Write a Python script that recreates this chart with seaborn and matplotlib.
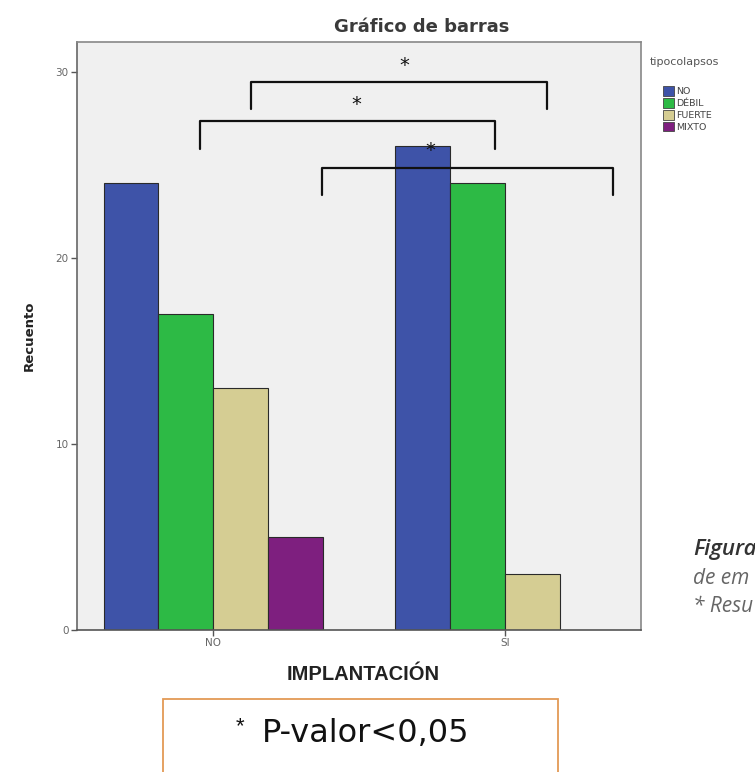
import matplotlib
matplotlib.use("Agg")
import matplotlib.pyplot as plt
import seaborn as sns
import pandas as pd
from matplotlib.patches import Rectangle, Patch

# ---- data ----
implantacion = ["NO", "SI"]
tipocolapsos = ["NO", "DÉBIL", "FUERTE", "MIXTO"]
recuento_no = [24, 17, 13, 5]
recuento_si = [26, 24, 3, 0]
colores = ["#3E53A8", "#2DBA45", "#D5CD93", "#7E1F7F"]

# significance brackets: (x_start, x_end, y_bar, y_leg_end, x_star)
brackets = [
    (0.13, 1.145, 29.45, 28.0, 0.654),
    (-0.045, 0.966, 27.35, 25.85, 0.49),
    (0.373, 1.37, 24.85, 23.4, 0.743),
]

rows = []
for t, v in zip(tipocolapsos, recuento_no):
    rows.append({"implantacion": "NO", "tipocolapsos": t, "recuento": v})
for t, v in zip(tipocolapsos, recuento_si):
    rows.append({"implantacion": "SI", "tipocolapsos": t, "recuento": v})
df = pd.DataFrame(rows)

sns.set_theme(style="white")
plt.rcParams["font.family"] = ["DejaVu Sans"]

W, H = 755, 772
fig = plt.figure(figsize=(W / 100, H / 100), dpi=100)
ax = fig.add_axes([77 / W, 1 - 630 / H, (641 - 77) / W, (630 - 42) / H])
ax.set_facecolor("#F0F0F0")

sns.barplot(data=df, x="implantacion", y="recuento", hue="tipocolapsos",
            order=implantacion, hue_order=tipocolapsos, palette=colores,
            saturation=1, width=0.75, edgecolor="#2a2a2a", linewidth=0.8,
            legend=False, ax=ax)

ax.set_xlim(-0.466, 1.466)
ax.set_ylim(0, 31.6)
ax.set_yticks([0, 10, 20, 30])
ax.tick_params(axis="both", direction="out", length=4, width=1, color="#555555",
               labelsize=7.5, labelcolor="#666666", pad=2, left=True, bottom=True)
for s in ax.spines.values():
    s.set_color("#888888")
    s.set_linewidth(1.2)
ax.spines["left"].set_color("#666666")
ax.spines["bottom"].set_color("#555555")

ax.set_xlabel("")
ax.set_ylabel("Recuento", fontsize=9.5, fontweight="bold", color="#222222", labelpad=14)

# brackets
for x0, x1, yb, yl, xs in brackets:
    ax.plot([x0, x0, x1, x1], [yl, yb, yb, yl], color="#111111", lw=1.6,
            solid_joinstyle="round", clip_on=False)
    ax.text(xs, yb + 0.4, "*", ha="center", va="bottom", fontsize=14,
            color="#111111")

# title
fig.text(422 / W, 1 - 27 / H, "Gráfico de barras", ha="center", va="center",
         fontsize=13, fontweight="bold", color="#3a3a3a")

# legend
fig.text(650 / W, 1 - 62 / H, "tipocolapsos", ha="left", va="center",
         fontsize=8, color="#555555")
handles = [Patch(facecolor=c, edgecolor="#444444", linewidth=0.6) for c in colores]
fig.legend(handles, tipocolapsos, loc="upper left",
           bbox_to_anchor=(663 / W, 1 - 86 / H), frameon=False,
           fontsize=6.8, handlelength=1.2, handleheight=1.2, handletextpad=0.2,
           labelspacing=0.2, borderpad=0, borderaxespad=0,
           labelcolor="#444444")

# x axis title
fig.text(363 / W, 1 - 675 / H, "IMPLANTACIÓN", ha="center", va="center",
         fontsize=14.5, fontweight="bold", color="#222222",
         family=["Liberation Sans Narrow", "Liberation Sans", "DejaVu Sans"])

# p-value box
fig.patches.append(Rectangle((163 / W, -0.02), (558 - 163) / W, 0.02 + (H - 699) / H,
                             transform=fig.transFigure, facecolor="white",
                             edgecolor="#E39A55", linewidth=1.3))
fig.text(240 / W, 1 - 727 / H, "*", ha="center", va="center",
         fontsize=16, color="#111111", family=["Liberation Sans", "DejaVu Sans"])
fig.text(262 / W, 1 - 734 / H, "P-valor<0,05", ha="left", va="center",
         fontsize=23, color="#111111", family=["DejaVu Sans"])

# cropped caption on the right
cap_font = ["Open Sans", "DejaVu Sans"]
fig.text(693 / W, 1 - 549 / H, "Figura", ha="left", va="center", fontsize=16,
         style="italic", fontweight="semibold", color="#333333", family=cap_font)
fig.text(693 / W, 1 - 578 / H, "de em", ha="left", va="center", fontsize=15,
         style="italic", color="#666666", family=cap_font)
fig.text(693 / W, 1 - 606 / H, "* Resu", ha="left", va="center", fontsize=15,
         style="italic", color="#666666", family=cap_font)

fig.savefig("out.png", dpi=100)
